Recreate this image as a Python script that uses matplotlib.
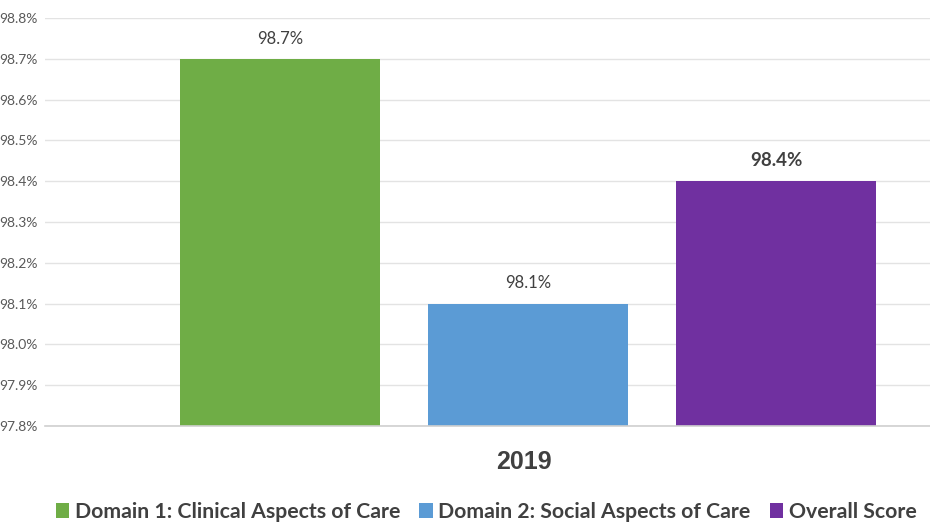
import matplotlib.pyplot as plt
import numpy as np

plt.rcParams['font.family'] = ['Lato', 'DejaVu Sans']

categories = ["Domain 1: Clinical Aspects of Care", "Domain 2: Social Aspects of Care", "Overall Score"]
values = [98.7, 98.1, 98.4]
colors = ["#6fad46", "#5b9bd5", "#7030a0"]
year = "2019"
yticks = [97.8, 97.9, 98.0, 98.1, 98.2, 98.3, 98.4, 98.5, 98.6, 98.7, 98.8]

fig = plt.figure(figsize=(9.3, 5.25), dpi=100)
ax = fig.add_axes([45 / 930, 1 - 426 / 525, 885 / 930, 408 / 525])

x = np.arange(len(values))
bars = ax.bar(x, values, width=0.806, color=colors, zorder=3, label=categories)

for i, (xi, v) in enumerate(zip(x, values)):
    bold = i == 2
    ax.text(xi, v + 0.03, "%.1f%%" % v, ha="center", va="bottom",
            fontsize=13.5 if bold else 12, fontweight="bold" if bold else "normal",
            color="#404040")

ax.set_ylim(97.8, 98.8)
ax.set_xlim(-0.948, 2.621)
ax.set_yticks(yticks)
ax.set_yticklabels(["%.1f%%" % t for t in yticks], fontsize=10, color="#595959")
ax.set_xticks([])
ax.tick_params(axis="y", length=0, pad=5)
for s in ax.spines.values():
    s.set_visible(False)
ax.grid(axis="y", color="#e3e3e3", linewidth=1, zorder=0)
ax.axhline(97.8, color="#d0d0d0", linewidth=1.2, zorder=4, clip_on=False)

fig.text(524 / 930, 1 - 462 / 525, year, ha="center", va="center",
         fontsize=18, fontweight="bold", color="#404040", family="Liberation Sans")

fig.legend(bars, categories, loc="center", bbox_to_anchor=(486 / 930, 1 - 512 / 525),
           ncol=3, frameon=False, prop={"size": 15.3, "weight": "bold"},
           handlelength=0.65, handleheight=0.65,
           handletextpad=0.25, columnspacing=0.9, labelcolor="#404040")

fig.savefig("out.png", dpi=100)
